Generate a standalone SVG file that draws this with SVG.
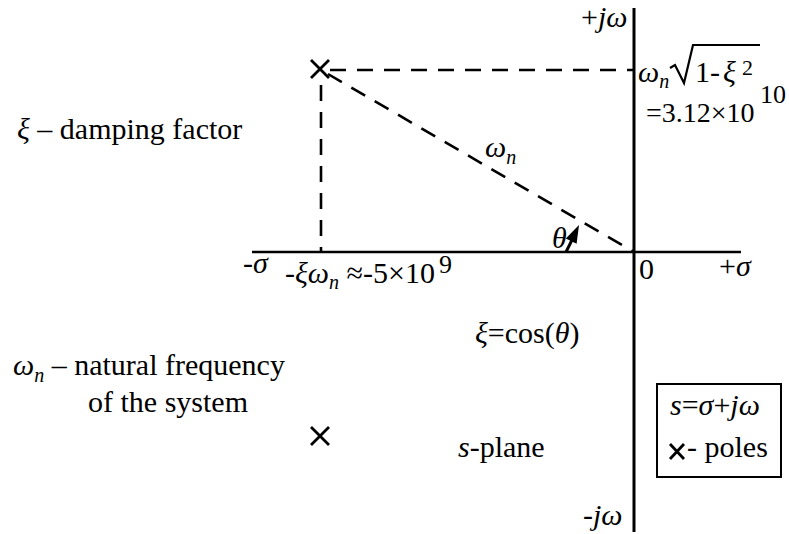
<svg xmlns="http://www.w3.org/2000/svg" width="789" height="534" viewBox="0 0 789 534">
<style>
text{font-family:"Liberation Serif","Times New Roman",serif;font-size:30px;fill:#000}
.i{font-style:italic}
.sub{font-size:20px;font-style:italic}
.sup{font-size:26px}
.sup2{font-size:22px}
.ax{stroke:#000;fill:none}
.dash{stroke:#000;stroke-width:2.6;stroke-dasharray:16 11;fill:none}
.pole{stroke:#000;stroke-width:2.8;fill:none}
</style>
<g id="axes">
<line class="ax" x1="634" y1="8" x2="634" y2="532" stroke-width="3"/>
<line class="ax" x1="252" y1="252" x2="741" y2="252" stroke-width="2.5"/>
</g>
<g id="connectors">
<line class="dash" x1="330" y1="70" x2="634" y2="70"/>
<line class="dash" x1="321" y1="85" x2="321" y2="252"/>
<line class="dash" x1="328" y1="74" x2="634" y2="252"/>
<line stroke="#000" stroke-width="3" x1="566" y1="252" x2="572" y2="240"/>
<polygon points="579,225 576.6,243.8 565.8,238.6" fill="#000"/>
</g>
<g id="pole1"><path class="pole" d="M311,60 L329,78 M329,60 L311,78"/></g>
<g id="pole2"><path class="pole" d="M311,427 L329,445 M329,427 L311,445"/></g>
<g id="labels">
<text x="581" y="27">+<tspan class="i">jω</tspan></text>
<text x="638" y="82"><tspan class="i">ω</tspan><tspan class="sub" dy="6">n</tspan></text>
<path d="M670,68 L675,65 L684,83 L693,45 L760,45" stroke="#000" stroke-width="2.2" fill="none"/>
<text x="695" y="82">1-</text>
<text x="723" y="82" class="i">ξ</text>
<text x="742" y="75" class="sup2">2</text>
<text x="646" y="122" style="font-size:28px">=3.12×10</text>
<text x="760" y="103" class="sup">10</text>
<text x="17" y="139"><tspan class="i">ξ</tspan> – damping factor</text>
<text x="485" y="157"><tspan class="i">ω</tspan><tspan class="sub" dy="7">n</tspan></text>
<text x="552" y="248" class="i">θ</text>
<text x="243" y="273">-<tspan class="i">σ</tspan></text>
<text x="285" y="283">-<tspan class="i">ξω</tspan><tspan class="sub" dy="6">n</tspan><tspan dy="-6"> ≈-5×10</tspan></text>
<text x="439" y="273" class="sup">9</text>
<text x="639" y="279">0</text>
<text x="719" y="276">+<tspan class="i">σ</tspan></text>
<text x="475" y="343"><tspan class="i">ξ</tspan>=cos(<tspan class="i">θ</tspan>)</text>
<text x="13" y="375"><tspan class="i">ω</tspan><tspan class="sub" dy="7">n</tspan><tspan dy="-7"> – natural frequency</tspan></text>
<text x="88" y="412">of the system</text>
<text x="458" y="457"><tspan class="i">s</tspan>-plane</text>
<text x="583" y="525" class="i">-jω</text>
</g>
<g id="legend">
<rect x="657" y="384" width="124" height="93" fill="none" stroke="#000" stroke-width="2"/>
<text x="670" y="415"><tspan class="i">s</tspan>=<tspan class="i">σ</tspan>+<tspan class="i">jω</tspan></text>
<path class="pole" d="M670,444 L684,459 M684,444 L670,459"/>
<text x="687" y="457">- poles</text>
</g>
</svg>
